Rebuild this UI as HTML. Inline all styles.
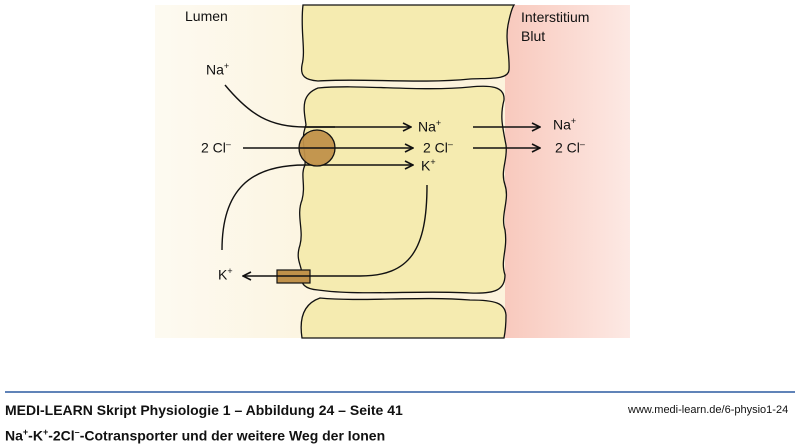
<!DOCTYPE html>
<html><head><meta charset="utf-8"><style>
body{margin:0;width:800px;height:447px;background:#fff;position:relative;overflow:hidden;font-family:"Liberation Sans",sans-serif}
.t{position:absolute;font-size:14px;color:#111}
sup{font-size:9px}
</style></head><body>
<svg width="800" height="447" style="position:absolute;left:0;top:0">
<defs>
<linearGradient id="lg" x1="0" x2="1"><stop offset="0" stop-color="#fdfaf1"/><stop offset="1" stop-color="#fcf3dc"/></linearGradient>
<linearGradient id="rg" x1="0" x2="1"><stop offset="0" stop-color="#f8c9bd"/><stop offset="1" stop-color="#fde9e4"/></linearGradient>
<marker id="a" markerWidth="10" markerHeight="10" refX="9" refY="5" orient="auto" markerUnits="userSpaceOnUse"><path d="M1,1 L9,5 L1,9" fill="none" stroke="#111" stroke-width="1.6"/></marker>
</defs>
<rect x="155" y="5" width="200" height="333" fill="url(#lg)"/>
<rect x="355" y="5" width="150" height="333" fill="#fcf3dc"/>
<rect x="505" y="5" width="125" height="333" fill="url(#rg)"/>
<g fill="#f5ebb0" stroke="#111" stroke-width="1.3">
<path d="M303,5 C300,30 306,50 302,65 C300,76 305,80 318,81 C360,78 420,84 470,79 C490,78 508,80 509,70 C510,55 505,40 508,25 C510,15 512,8 514,5 Z"/>
<path d="M318,88 C360,84 420,92 470,87 C490,85 505,86 504,100 C500,115 502,125 506,145 C508,160 500,170 505,185 C510,200 500,215 505,230 C508,250 500,260 505,275 C505,290 495,294 470,293 C420,290 360,296 318,290 C305,289 300,284 302,275 C302,265 295,260 300,245 C304,230 296,215 302,200 C306,185 300,175 305,165 C306,150 300,140 306,125 C304,110 300,95 318,88 Z"/>
<path d="M320,298 C360,302 420,296 470,300 C495,300 505,303 506,315 C506,325 505,333 504,338 L302,338 C300,325 300,305 320,298 Z"/>
</g>
<g fill="none" stroke="#111" stroke-width="1.4">
<path d="M225,85 C250,115 270,127 305,127 L411,127" marker-end="url(#a)"/>
<path d="M243,148 L413,148" marker-end="url(#a)"/>
<path d="M305,165 L413,165" marker-end="url(#a)"/>
<path d="M305,165 C250,165 222,190 222,250"/>
<path d="M427,185 C427,250 410,276 360,276 L243,276" marker-end="url(#a)"/>
<path d="M473,127 L540,127" marker-end="url(#a)"/>
<path d="M473,148 L540,148" marker-end="url(#a)"/>
</g>
<circle cx="317" cy="148" r="18" fill="#c0914a" stroke="#111" stroke-width="1.3" fill-opacity="0.95"/>
<line x1="299" y1="148" x2="335" y2="148" stroke="#111" stroke-width="1.4"/>
<line x1="305" y1="127" x2="335" y2="127" stroke="#111" stroke-width="1.4"/>
<rect x="277" y="270" width="33" height="13" fill="#c0914a" stroke="#111" stroke-width="1.2"/>
<line x1="277" y1="276" x2="310" y2="276" stroke="#111" stroke-width="1.4"/>
<line x1="5" y1="392" x2="795" y2="392" stroke="#2c5aa0" stroke-width="1.5"/>
</svg>
<div class="t" style="left:185px;top:8px">Lumen</div>
<div class="t" style="left:521px;top:8px;line-height:19px">Interstitium<br>Blut</div>
<div class="t" style="left:206px;top:61px">Na<sup>+</sup></div>
<div class="t" style="left:201px;top:139px">2 Cl<sup>–</sup></div>
<div class="t" style="left:418px;top:118px">Na<sup>+</sup></div>
<div class="t" style="left:423px;top:139px">2 Cl<sup>–</sup></div>
<div class="t" style="left:421px;top:157px">K<sup>+</sup></div>
<div class="t" style="left:553px;top:116px">Na<sup>+</sup></div>
<div class="t" style="left:555px;top:139px">2 Cl<sup>–</sup></div>
<div class="t" style="left:218px;top:266px">K<sup>+</sup></div>
<div class="t" style="left:5px;top:402px;font-size:14px;font-weight:bold">MEDI-LEARN Skript Physiologie 1 – Abbildung 24 – Seite 41</div>
<div class="t" style="left:5px;top:427px;font-size:14px;font-weight:bold">Na<sup>+</sup>-K<sup>+</sup>-2Cl<sup>–</sup>-Cotransporter und der weitere Weg der Ionen</div>
<div class="t" style="left:628px;top:404px;font-size:11px">www.medi-learn.de/6-physio1-24</div>
</body></html>
